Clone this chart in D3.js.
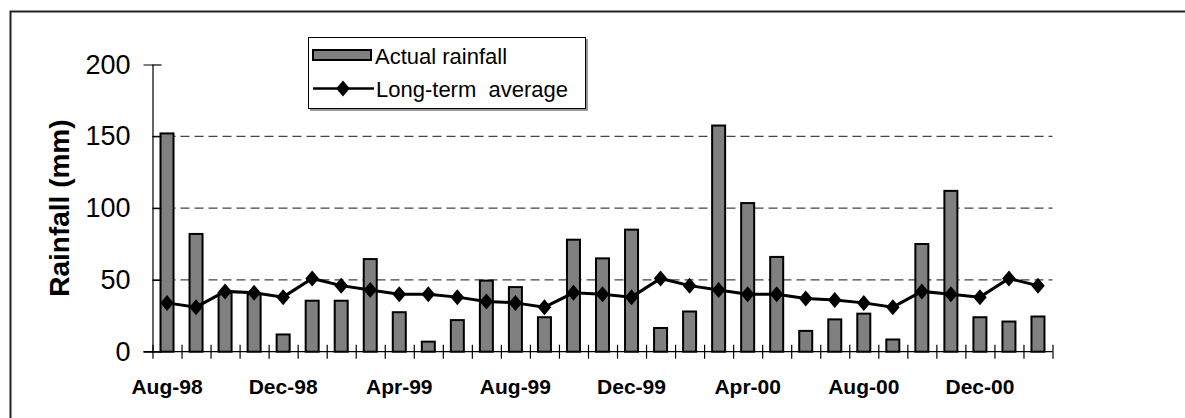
<!DOCTYPE html>
<html>
<head>
<meta charset="utf-8">
<script src="https://cdn.jsdelivr.net/npm/d3@7"></script>
<style>
  body { margin: 0; background: #fff; }
  svg text { font-family: "Liberation Sans", Arial, sans-serif; }
</style>
</head>
<body>
<svg id="chart" width="1185" height="418"></svg>
<script>
// monthly data, Aug-98 .. Feb-01
const months = ["Aug-98","Sep-98","Oct-98","Nov-98","Dec-98","Jan-99","Feb-99","Mar-99","Apr-99","May-99","Jun-99","Jul-99",
  "Aug-99","Sep-99","Oct-99","Nov-99","Dec-99","Jan-00","Feb-00","Mar-00","Apr-00","May-00","Jun-00","Jul-00",
  "Aug-00","Sep-00","Oct-00","Nov-00","Dec-00","Jan-01","Feb-01"];
const actual = [152, 82, 41, 40, 12, 35.5, 35.5, 64.5, 27.5, 7, 22, 49.5,
  45, 24, 78, 65, 85, 16.5, 28, 157.5, 103.5, 66, 14.5, 22.5,
  26.5, 8.5, 75, 112, 24, 21, 24.5];
const average = [34, 31, 42, 41, 38, 51, 46, 43, 40, 40, 38, 35,
  34, 31, 41, 40, 38, 51, 46, 43, 40, 40, 37, 36,
  34, 31, 42, 40, 38, 51, 46];
const yTicks = [0, 50, 100, 150, 200];
const gridValues = [50, 100, 150];
const xLabels = ["Aug-98","Dec-98","Apr-99","Aug-99","Dec-99","Apr-00","Aug-00","Dec-00"];

const svg = d3.select("#chart");
const plotLeft = 152.5, plotRight = 1052.5, plotTop = 64.5, plotBottom = 351.7;

const x = d3.scaleBand().domain(months).range([plotLeft, plotRight]).padding(0);
const xTick = d3.scaleLinear().domain([0, months.length]).range([plotLeft, plotRight]);
const y = d3.scaleLinear().domain([0, 200]).range([plotBottom, plotTop]);

// outer frame
svg.append("rect")
  .attr("x", 10.5).attr("y", 11.5)
  .attr("width", 1200).attr("height", 420)
  .attr("fill", "none").attr("stroke", "#222").attr("stroke-width", 2);

// gridlines
svg.append("g").selectAll("line")
  .data(gridValues).enter().append("line")
  .attr("x1", plotLeft).attr("x2", plotRight)
  .attr("y1", d => y(d)).attr("y2", d => y(d))
  .attr("stroke", "#444").attr("stroke-width", 1.2)
  .attr("stroke-dasharray", "9,5");

// bars
const barW = 13;
svg.append("g").selectAll("rect")
  .data(actual).enter().append("rect")
  .attr("x", (d, i) => x(months[i]) + (x.bandwidth() - barW) / 2)
  .attr("y", d => y(d))
  .attr("width", barW)
  .attr("height", d => plotBottom - y(d))
  .attr("fill", "#808080")
  .attr("stroke", "#000").attr("stroke-width", 2);

// y axis
const yAxis = svg.append("g")
  .attr("transform", "translate(" + plotLeft + ",0)")
  .call(d3.axisLeft(y).tickValues(yTicks).tickSize(9).tickPadding(13));
yAxis.select(".domain").attr("stroke", "#000").attr("stroke-width", 1.2);
yAxis.selectAll(".tick line").attr("x2", 9).attr("stroke", "#000").attr("stroke-width", 1.2);
yAxis.selectAll(".tick text").attr("font-size", 27).attr("fill", "#000")
  .style("font-family", "Liberation Sans, Arial, sans-serif");

// x axis ticks (crossing)
const xAxis = svg.append("g")
  .attr("transform", "translate(0," + plotBottom + ")")
  .call(d3.axisBottom(xTick).tickValues(d3.range(months.length + 1)).tickSize(7).tickFormat(""));
xAxis.select(".domain").attr("d", "M" + (plotLeft - 9) + ",0H" + plotRight).attr("stroke", "#000").attr("stroke-width", 1.2);
xAxis.selectAll(".tick line").attr("y1", -7).attr("stroke", "#000").attr("stroke-width", 1.2);

// x labels
const xLab = svg.append("g")
  .attr("transform", "translate(0," + plotBottom + ")")
  .call(d3.axisBottom(x).tickValues(xLabels).tickSize(0).tickPadding(27));
xLab.select(".domain").remove();
xLab.selectAll(".tick text").attr("font-size", 21).attr("font-weight", "bold").attr("fill", "#000")
  .style("font-family", "Liberation Sans, Arial, sans-serif");

// long-term average line
const line = d3.line()
  .x((d, i) => x(months[i]) + x.bandwidth() / 2)
  .y(d => y(d));
svg.append("path")
  .datum(average)
  .attr("d", line)
  .attr("fill", "none").attr("stroke", "#000").attr("stroke-width", 3);

// diamond marker, a bit taller than wide
const diamondType = {
  draw(ctx, size) {
    const w = 6.8, h = 8;
    ctx.moveTo(0, -h); ctx.lineTo(w, 0); ctx.lineTo(0, h); ctx.lineTo(-w, 0); ctx.closePath();
  }
};
const diamond = d3.symbol().type(diamondType);
svg.append("g").selectAll("path")
  .data(average).enter().append("path")
  .attr("d", diamond)
  .attr("transform", (d, i) => "translate(" + (x(months[i]) + x.bandwidth() / 2) + "," + y(d) + ")")
  .attr("fill", "#000");

// y title
svg.append("text")
  .attr("transform", "translate(69," + ((plotTop + plotBottom) / 2) + ") rotate(-90)")
  .attr("text-anchor", "middle")
  .attr("font-size", 28).attr("font-weight", "bold")
  .text("Rainfall (mm)");

// legend
const lg = svg.append("g");
lg.append("rect").attr("x", 310).attr("y", 39).attr("width", 278).attr("height", 72).attr("fill", "#999");
lg.append("rect").attr("x", 308.5).attr("y", 37.5).attr("width", 277).attr("height", 71)
  .attr("fill", "#fff").attr("stroke", "#000").attr("stroke-width", 1);
lg.append("rect").attr("x", 313).attr("y", 50).attr("width", 58).attr("height", 10)
  .attr("fill", "#808080").attr("stroke", "#000").attr("stroke-width", 2);
lg.append("text").attr("x", 375).attr("y", 64).attr("font-size", 22).text("Actual rainfall");
lg.append("line").attr("x1", 313).attr("x2", 374).attr("y1", 88.5).attr("y2", 88.5)
  .attr("stroke", "#000").attr("stroke-width", 2.5);
lg.append("path").attr("d", diamond).attr("transform", "translate(343,88.5)").attr("fill", "#000");
lg.append("text").attr("x", 376).attr("y", 97).attr("font-size", 22)
  .style("white-space", "pre").text("Long-term  average");
</script>
</body>
</html>
